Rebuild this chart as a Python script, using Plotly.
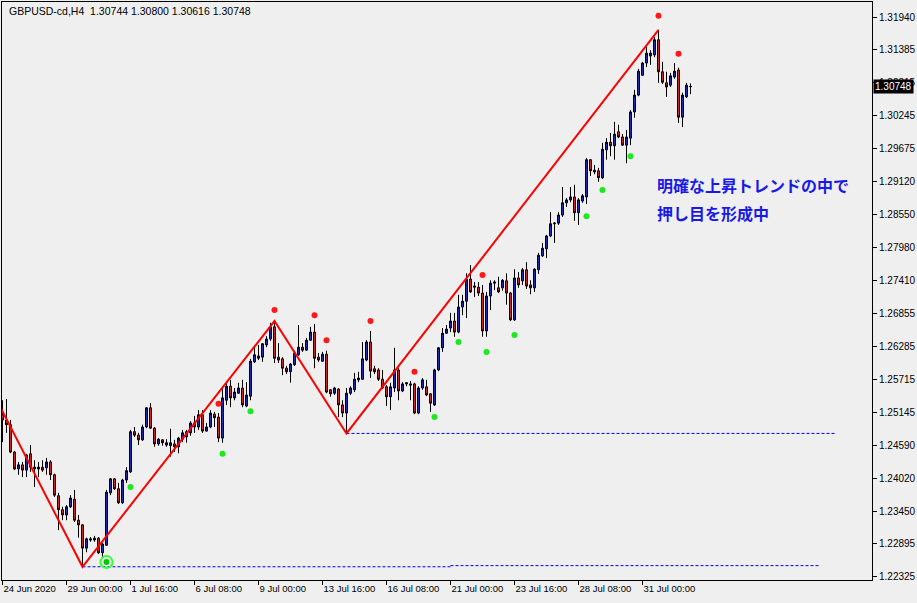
import plotly.graph_objects as go

# ---- GBPUSD H4 candles (bar index 0 = 24 Jun 2020) ----
open_ = [1.2511,1.2502,1.2494,1.2447,1.2418,1.2425,1.2416,1.2444,1.2421,1.2418,
         1.2421,1.2420,1.2430,1.2408,1.2372,1.2348,1.2339,1.2353,1.2366,1.2330,
         1.2322,1.2282,1.2298,1.2296,1.2299,1.2274,1.2287,1.2377,1.2401,1.2384,
         1.2360,1.2399,1.2413,1.2482,1.2476,1.2468,1.2490,1.2523,1.2488,1.2461,
         1.2468,1.2459,1.2458,1.2461,1.2456,1.2469,1.2473,1.2480,1.2497,1.2490,
         1.2511,1.2483,1.2490,1.2512,1.2507,1.2471,1.2536,1.2560,1.2540,1.2548,
         1.2557,1.2526,1.2543,1.2602,1.2612,1.2610,1.2631,1.2641,1.2662,1.2610,
         1.2607,1.2591,1.2585,1.2597,1.2614,1.2627,1.2622,1.2639,1.2653,1.2610,
         1.2603,1.2615,1.2554,1.2548,1.2555,1.2528,1.2514,1.2548,1.2554,1.2571,
         1.2572,1.2605,1.2636,1.2590,1.2588,1.2572,1.2559,1.2542,1.2557,1.2588,
         1.2552,1.2564,1.2564,1.2564,1.2514,1.2557,1.2559,1.2547,1.2528,1.2588,
         1.2626,1.2651,1.2660,1.2672,1.2653,1.2696,1.2706,1.2744,1.2730,1.2730,
         1.2720,1.2655,1.2715,1.2737,1.2729,1.2729,1.2741,1.2720,1.2674,1.2746,
         1.2741,1.2760,1.2734,1.2729,1.2760,1.2784,1.2796,1.2818,1.2839,1.2840,
         1.2854,1.2875,1.2880,1.2885,1.2858,1.2878,1.2885,1.2949,1.2931,1.2930,
         1.2918,1.2966,1.2979,1.2973,1.2997,1.2988,1.2974,1.2986,1.3031,1.3060,
         1.3094,1.3115,1.3127,1.3129,1.3155,1.3100,1.3081,1.3077,1.3091,1.3103,
         1.3022,1.3057,1.30744]
high = [1.2536,1.2538,1.2502,1.2449,1.2430,1.2430,1.2444,1.2459,1.2433,1.2430,
        1.2433,1.2437,1.2433,1.2410,1.2377,1.2353,1.2356,1.2373,1.2382,1.2339,
        1.2323,1.2300,1.2301,1.2303,1.2301,1.2291,1.2382,1.2402,1.2402,1.2394,
        1.2401,1.2421,1.2485,1.2490,1.2480,1.2494,1.2524,1.2531,1.2490,1.2471,
        1.2469,1.2469,1.2487,1.2468,1.2473,1.2485,1.2485,1.2500,1.2509,1.2519,
        1.2519,1.2497,1.2519,1.2516,1.2514,1.2560,1.2566,1.2571,1.2557,1.2566,
        1.2571,1.2567,1.2607,1.2627,1.2631,1.2634,1.2646,1.2669,1.2672,1.2634,
        1.2610,1.2595,1.2600,1.2621,1.2665,1.2634,1.2643,1.2662,1.2667,1.2617,
        1.2619,1.2621,1.2555,1.2559,1.2557,1.2536,1.2557,1.2560,1.2583,1.2585,
        1.2636,1.2639,1.2655,1.2595,1.2591,1.2588,1.2562,1.2566,1.2626,1.2591,
        1.2567,1.2567,1.2569,1.2566,1.2560,1.2574,1.2571,1.2548,1.2590,1.2627,
        1.2660,1.2665,1.2686,1.2686,1.2717,1.2717,1.2754,1.2768,1.2739,1.2739,
        1.2734,1.2722,1.2742,1.2742,1.2748,1.2744,1.2754,1.2722,1.2761,1.2756,
        1.2763,1.2773,1.2742,1.2763,1.2789,1.2806,1.2820,1.2859,1.2842,1.2859,
        1.2902,1.2883,1.2902,1.2906,1.2883,1.2890,1.2952,1.2950,1.2940,1.2935,
        1.2978,1.2986,1.2995,1.3014,1.3009,1.2993,1.3000,1.3034,1.3069,1.3105,
        1.3117,1.3143,1.3137,1.3160,1.3172,1.3117,1.3100,1.3098,1.3115,1.3107,
        1.3064,1.3081,1.30800]
low = [1.2464,1.2480,1.2445,1.2416,1.2408,1.2404,1.2404,1.2413,1.2387,1.2404,
       1.2413,1.2408,1.2399,1.2370,1.2313,1.2330,1.2330,1.2351,1.2327,1.2300,
       1.2250,1.2275,1.2293,1.2293,1.2272,1.2267,1.2286,1.2373,1.2382,1.2358,
       1.2358,1.2394,1.2411,1.2473,1.2459,1.2466,1.2488,1.2487,1.2456,1.2458,
       1.2458,1.2456,1.2439,1.2447,1.2445,1.2464,1.2463,1.2475,1.2480,1.2485,
       1.2480,1.2482,1.2488,1.2490,1.2464,1.2463,1.2528,1.2524,1.2536,1.2547,
       1.2524,1.2524,1.2536,1.2600,1.2605,1.2602,1.2627,1.2638,1.2600,1.2600,
       1.2579,1.2581,1.2566,1.2595,1.2612,1.2619,1.2621,1.2638,1.2591,1.2602,
       1.2602,1.2548,1.2542,1.2545,1.2507,1.2507,1.2479,1.2545,1.2550,1.2567,
       1.2571,1.2603,1.2574,1.2581,1.2569,1.2555,1.2526,1.2519,1.2550,1.2536,
       1.2550,1.2560,1.2536,1.2512,1.2512,1.2554,1.2543,1.2516,1.2526,1.2586,
       1.2619,1.2650,1.2653,1.2645,1.2651,1.2682,1.2677,1.2720,1.2713,1.2715,
       1.2645,1.2645,1.2691,1.2725,1.2720,1.2724,1.2700,1.2672,1.2672,1.2729,
       1.2734,1.2727,1.2718,1.2722,1.2753,1.2782,1.2780,1.2816,1.2806,1.2837,
       1.2851,1.2868,1.2876,1.2844,1.2837,1.2875,1.2873,1.2921,1.2924,1.2911,
       1.2916,1.2949,1.2955,1.2949,1.2986,1.2973,1.2943,1.2974,1.3021,1.3058,
       1.3093,1.3108,1.3112,1.3125,1.3081,1.3079,1.3057,1.3074,1.3088,1.3012,
       1.3005,1.3055,1.30616]
close = [1.2502,1.2494,1.2447,1.2418,1.2425,1.2416,1.2442,1.2421,1.2418,1.2421,
         1.2416,1.2430,1.2408,1.2373,1.2348,1.2339,1.2353,1.2368,1.2330,1.2322,
         1.2282,1.2298,1.2296,1.2299,1.2274,1.2289,1.2378,1.2401,1.2384,1.2360,
         1.2399,1.2415,1.2482,1.2476,1.2468,1.2490,1.2523,1.2488,1.2461,1.2469,
         1.2463,1.2463,1.2463,1.2456,1.2471,1.2480,1.2482,1.2497,1.2490,1.2511,
         1.2483,1.2490,1.2514,1.2506,1.2471,1.2540,1.2560,1.2540,1.2550,1.2557,
         1.2528,1.2545,1.2603,1.2614,1.2608,1.2633,1.2641,1.2662,1.2608,1.2605,
         1.2591,1.2585,1.2598,1.2617,1.2627,1.2622,1.2639,1.2653,1.2608,1.2605,
         1.2615,1.2550,1.2547,1.2557,1.2528,1.2514,1.2548,1.2557,1.2572,1.2574,
         1.2607,1.2636,1.2586,1.2585,1.2572,1.2557,1.2542,1.2559,1.2588,1.2552,
         1.2564,1.2566,1.2562,1.2514,1.2557,1.2571,1.2545,1.2531,1.2588,1.2626,
         1.2651,1.2658,1.2672,1.2653,1.2696,1.2706,1.2744,1.2722,1.2732,1.2720,
         1.2655,1.2715,1.2737,1.2739,1.2722,1.2742,1.2720,1.2674,1.2746,1.2734,
         1.2760,1.2732,1.2729,1.2761,1.2785,1.2797,1.2818,1.2839,1.2840,1.2854,
         1.2875,1.2880,1.2885,1.2858,1.2880,1.2887,1.2949,1.2930,1.2928,1.2918,
         1.2967,1.2979,1.2973,1.2993,1.2988,1.2974,1.2988,1.3031,1.3060,1.3101,
         1.3115,1.3132,1.3132,1.3155,1.3100,1.3082,1.3074,1.3093,1.3101,1.3022,
         1.3060,1.3077,1.30748]

# ---- time axis labels (bar index -> label) ----
date_tick_idx = [0, 16, 32, 48, 64, 80, 96, 112, 128, 144, 160]
date_tick_text = ["24 Jun 2020", "29 Jun 00:00", "1 Jul 16:00", "6 Jul 08:00",
                  "9 Jul 00:00", "13 Jul 16:00", "16 Jul 08:00", "21 Jul 00:00",
                  "23 Jul 16:00", "28 Jul 08:00", "31 Jul 00:00"]

# ---- price axis labels ----
price_ticks = [1.31940, 1.31385, 1.30815, 1.30245, 1.29675, 1.29120, 1.28550,
               1.27980, 1.27410, 1.26855, 1.26285, 1.25715, 1.25145, 1.24590,
               1.24020, 1.23450, 1.22895, 1.22325]

# ---- ZigZag pivots ----
zz_idx = [-3, 20, 68, 86, 164]
zz_price = [1.2557, 1.2250, 1.2672, 1.2479, 1.3172]

# ---- fractal-like dots ----
red_idx = [54, 68, 78, 81, 92, 103, 120, 164, 169]
red_price = [1.2530, 1.2691, 1.2682, 1.2639, 1.2672, 1.2585, 1.2751, 1.3196, 1.3131]
green_idx = [32, 55, 62, 108, 114, 121, 128, 146, 150, 157]
green_price = [1.2387, 1.2444, 1.2517, 1.2507, 1.2636, 1.2619, 1.2648, 1.2852, 1.2897, 1.2955]
ring_idx = [26]
ring_price = [1.2258]

# ---- horizontal support levels ----
lvl1_idx = [20, 112]
lvl1_price = [1.2250, 1.2250]
lvl1b_idx = [112, 204]
lvl1b_price = [1.2252, 1.2252]
lvl2_idx = [86, 208]
lvl2_price = [1.2479, 1.2479]

title_text = "GBPUSD-cd,H4  1.30744 1.30800 1.30616 1.30748"
last_price = 1.30748
note_line1 = "明確な上昇トレンドの中で"
note_line2 = "押し目を形成中"

BG = "#efefef"
fig = go.Figure()

fig.add_trace(go.Candlestick(
    x=list(range(len(open_))), open=open_, high=high, low=low, close=close,
    increasing=dict(line=dict(color="black", width=1), fillcolor="#1f2fb0"),
    decreasing=dict(line=dict(color="black", width=1), fillcolor="#d42a2a"),
    whiskerwidth=0, hoverinfo="skip", showlegend=False))

dash_style = dict(color="#0000ff", width=1, dash="3px,2px")
for xs, ys in [(lvl1_idx, lvl1_price), (lvl1b_idx, lvl1b_price), (lvl2_idx, lvl2_price)]:
    fig.add_trace(go.Scatter(x=xs, y=ys, mode="lines", line=dash_style,
                             hoverinfo="skip", showlegend=False))

fig.add_trace(go.Scatter(x=zz_idx, y=zz_price, mode="lines",
                         line=dict(color="#ff0000", width=2),
                         hoverinfo="skip", showlegend=False))

fig.add_trace(go.Scatter(x=red_idx, y=red_price, mode="markers",
                         marker=dict(color="#ff1a1a", size=6, line=dict(width=0)),
                         hoverinfo="skip", showlegend=False))
fig.add_trace(go.Scatter(x=green_idx, y=green_price, mode="markers",
                         marker=dict(color="#1ee81e", size=6, line=dict(width=0)),
                         hoverinfo="skip", showlegend=False))
fig.add_trace(go.Scatter(x=ring_idx, y=ring_price, mode="markers",
                         marker=dict(symbol="circle-open", color="#33ff33", size=12,
                                     line=dict(width=2, color="#33ff33")),
                         hoverinfo="skip", showlegend=False))
fig.add_trace(go.Scatter(x=ring_idx, y=ring_price, mode="markers",
                         marker=dict(color="#00c800", size=6, line=dict(width=0)),
                         hoverinfo="skip", showlegend=False))

font_ui = "Liberation Sans, Arial, sans-serif"
fig.update_layout(
    width=917, height=603, autosize=False,
    margin=dict(l=2, r=45, t=2, b=23, pad=0),
    paper_bgcolor=BG, plot_bgcolor=BG,
    showlegend=False, hovermode=False, boxgap=0.3,
    xaxis=dict(range=[-0.125, 217.375], rangeslider=dict(visible=False),
               tickmode="array", tickvals=date_tick_idx, ticktext=date_tick_text,
               ticks="outside", ticklen=4, tickcolor="black", tickwidth=1,
               ticklabelposition="outside right",
               tickfont=dict(family=font_ui, size=9.5, color="black"),
               showgrid=False, zeroline=False, showline=True, linecolor="black",
               linewidth=1, mirror=True, fixedrange=True),
    yaxis=dict(side="right", range=[1.22273, 1.32198],
               tickmode="array", tickvals=price_ticks,
               ticktext=[f"{v:.5f}" for v in price_ticks],
               ticks="outside", ticklen=4, tickcolor="black", tickwidth=1,
               tickfont=dict(family=font_ui, size=10, color="black"),
               showgrid=False, zeroline=False, showline=True, linecolor="black",
               linewidth=1, mirror=True, fixedrange=True, automargin=False),
)

fig.add_annotation(xref="paper", yref="paper", x=0.006, y=0.9845,
                   xanchor="left", yanchor="middle", showarrow=False,
                   text=title_text, font=dict(family=font_ui, size=10.5, color="black"))
fig.add_annotation(xref="paper", yref="y", x=1, y=last_price, xanchor="left",
                   yanchor="middle", xshift=1, showarrow=False,
                   text=f"{last_price:.5f}", bgcolor="black", borderpad=1,
                   font=dict(family=font_ui, size=10, color="white"))
jp_font = dict(family="Noto Sans CJK JP, sans-serif", size=16, color="#1a1ae6")
fig.add_annotation(xref="paper", yref="paper", x=0.7506, y=0.6834,
                   xanchor="left", yanchor="middle", showarrow=False,
                   text=f"<b>{note_line1}</b>", font=jp_font)
fig.add_annotation(xref="paper", yref="paper", x=0.7506, y=0.6349,
                   xanchor="left", yanchor="middle", showarrow=False,
                   text=f"<b>{note_line2}</b>", font=jp_font)

fig.write_html("out.html", config={"displayModeBar": False, "staticPlot": True},
               post_script="document.body.style.margin='0';document.body.style.padding='0';")
